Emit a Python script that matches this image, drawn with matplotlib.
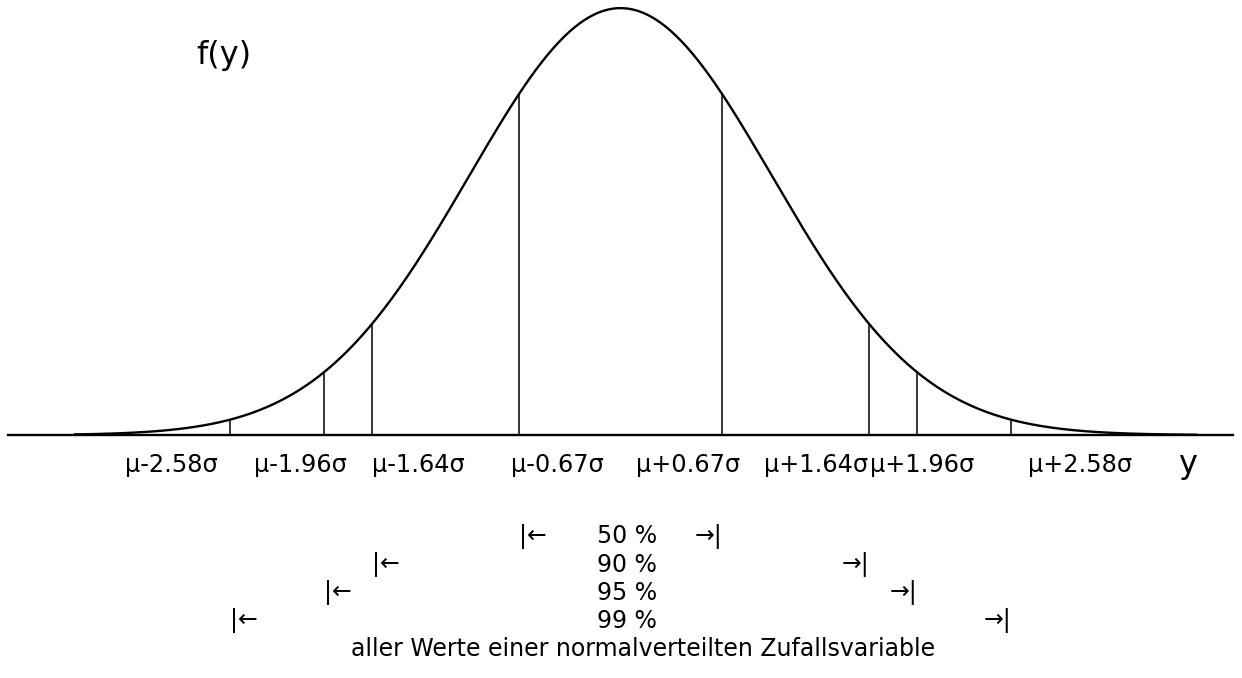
import matplotlib
matplotlib.use("Agg")
import matplotlib.pyplot as plt
import numpy as np

# Normalverteilung mit Streubereichen um den Mittelwert (x in Einheiten von sigma)
z_werte = [0.67, 1.64, 1.96, 2.58]
prozente = ["50 %", "90 %", "95 %", "99 %"]
achsen_labels = ["μ-2.58σ", "μ-1.96σ", "μ-1.64σ", "μ-0.67σ",
                 "μ+0.67σ", "μ+1.64σ", "μ+1.96σ", "μ+2.58σ"]
label_pos = [-2.967, -2.115, -1.337, -0.419, 0.446, 1.29, 1.99, 3.033]

plt.rcParams['font.family'] = ['DejaVu Sans']

fig = plt.figure(figsize=(12.42, 6.78), dpi=100)
ax = fig.add_axes([0, 0, 1, 1])
ax.set_xlim(-4.096, 4.102)
ax.set_ylim(-0.569, 1.019)
ax.axis('off')

def f(x):
    return np.exp(-x ** 2 / 2)

# Kurve und Grundlinie
xs = np.linspace(-3.6, 3.8, 600)
ax.plot(xs, f(xs), color='black', lw=1.7)
ax.plot([-4.04, 4.04], [0, 0], color='black', lw=1.7)

# senkrechte Linien bei +-z
for z in z_werte:
    for s in (-1, 1):
        ax.plot([s * z, s * z], [0, f(z)], color='black', lw=1.1)

# Beschriftung der x-Achse
for lab, xp in zip(achsen_labels, label_pos):
    ax.text(xp, -0.07, lab, ha='center', va='center', fontsize=17.3)
ax.text(3.746, -0.07, "y", ha='center', va='center', fontsize=23)
ax.text(-2.62, 0.89, "f(y)", ha='center', va='center', fontsize=23)

# Bereiche mit Pfeilen
zeilen_y = [-0.237, -0.304, -0.369, -0.435]
for z, p, yy in zip(z_werte, prozente, zeilen_y):
    ax.text(-z, yy, "|←", ha='left', va='center', fontsize=17)
    ax.text(z, yy, "→|", ha='right', va='center', fontsize=17)
    ax.text(0.04, yy, p, ha='center', va='center', fontsize=17)
ax.text(0.15, -0.5, "aller Werte einer normalverteilten Zufallsvariable",
        ha='center', va='center', fontsize=17)

fig.savefig("out.png", dpi=100)
